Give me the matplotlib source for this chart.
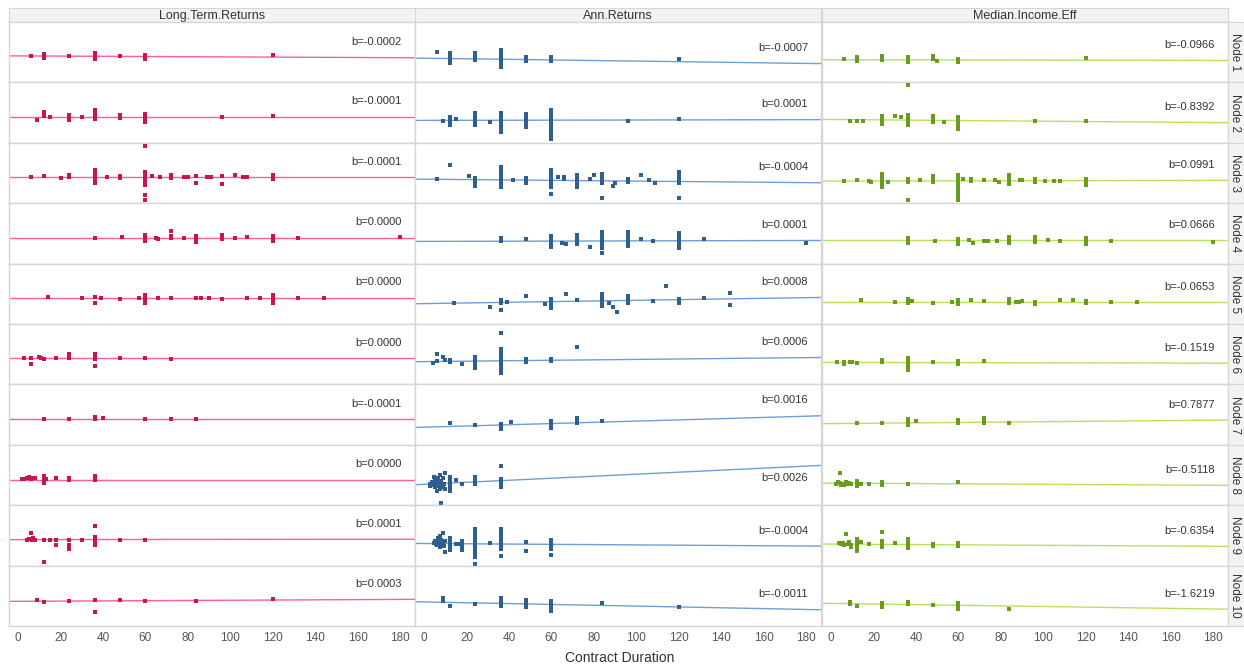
import matplotlib
matplotlib.use("Agg")
import matplotlib.pyplot as plt
import matplotlib.transforms as mtransforms

plt.rcParams['font.family'] = ['Liberation Sans', 'DejaVu Sans']

# facet labels
measures = ['Long.Term.Returns', 'Ann.Returns', 'Median.Income.Eff']
nodes = ['Node %d' % i for i in range(1, 11)]
x_ticks = [0, 20, 40, 60, 80, 100, 120, 140, 160, 180]

# slope labels per node (rows) for each measure
ltr_b = ['-0.0002', '-0.0001', '-0.0001', '0.0000', '0.0000', '0.0000', '-0.0001', '0.0000', '0.0001', '0.0003']
ann_b = ['-0.0007', '0.0001', '-0.0004', '0.0001', '0.0008', '0.0006', '0.0016', '0.0026', '-0.0004', '-0.0011']
mie_b = ['-0.0966', '-0.8392', '0.0991', '0.0666', '-0.0653', '-0.1519', '0.7877', '-0.5118', '-0.6354', '-1.6219']

# fitted trend lines (scaled units per cell)
ltr_icpt = [0.5, 0, 0, 0, 0, 0, -0.5, -0.5, 0, -1.3]
ltr_slope = [-0.01, 0, 0, 0, 0, 0, 0, 0, 0.002, 0.0105]
ann_icpt = [-1.8, -3.6, -2, -3.8, -5.6, -3.2, -8.4, -5.1, -3.9, -1.9]
ann_slope = [-0.029, 0.004, -0.019, 0.005, 0.033, 0.022, 0.061, 0.101, -0.014, -0.042]
mie_icpt = [-3.3, -2.7, -3.9, -2.8, -4.4, -4.0, -4.8, -3.9, -4.5, -3.4]
mie_slope = [-0.004, -0.017, 0.004, 0, 0, -0.004, 0.019, -0.012, -0.012, -0.031]

# (contract duration, scaled value) points per node
ltr_pts = [
    [(6, 0), (12, 2), (12, 0), (12, -2), (24, 0), (36, 3), (36, 1), (36, -1), (36, -3), (48, 0),
     (60, 1), (60, -1), (60, -3), (120, 1)],
    [(9, -3), (12, 5), (12, 1), (15, 0), (24, 2), (24, 0), (24, -3), (30, 0), (36, 7), (36, 4), (36, 2),
     (36, 0), (36, -2), (48, 2), (48, 0), (48, -1), (60, 3), (60, 1), (60, -1), (60, -3), (60, -5),
     (96, 0), (120, 1)],
    [(6, 0), (12, 1), (20, -1), (24, 2), (24, 0), (36, 7), (36, 4), (36, 2), (36, 0), (36, -2), (36, -4),
     (36, -6), (42, 0), (48, 1), (48, -1), (60, 31), (60, 5), (60, 2), (60, 0), (60, -2), (60, -5),
     (60, -8), (60, -18), (60, -23), (63, 1), (67, 0), (72, 2), (72, 0), (72, -1), (78, 0), (80, 0),
     (84, 1), (84, -6), (89, 0), (91, 0), (96, 1), (96, -7), (102, 2), (106, 0), (108, 0), (120, 2),
     (120, 0), (120, -2)],
    [(36, 0), (49, 1), (60, 3), (60, 1), (60, -1), (60, -3), (65, 0), (66, -1), (72, 7), (72, 2), (72, 0),
     (78, 0), (84, 2), (84, 0), (84, -2), (84, -4), (96, 3), (96, 1), (96, -1), (102, 0), (108, 1),
     (120, 2), (120, 0), (120, -3), (132, 0), (180, 1)],
    [(14, 1), (30, 0), (36, 1), (36, -5), (39, 0), (48, -1), (57, 0), (60, 3), (60, 1), (60, -1), (60, -5),
     (66, 0), (72, 0), (84, 0), (86, 0), (90, 0), (96, -1), (108, 0), (114, 0), (120, 3), (120, 1),
     (120, -1), (120, -5), (132, 0), (144, 0)],
    [(3, 0), (6, 0), (6, -6), (10, 1), (11, 0), (12, -1), (18, 0), (24, 4), (24, 2), (24, 0), (36, 4),
     (36, 2), (36, 0), (36, -1), (36, -8), (48, 0), (60, 0), (72, -1)],
    [(12, 0), (24, 0), (36, 2), (36, 0), (40, 1), (60, 0), (72, 0), (84, 0)],
    [(2, 0), (3, 0), (4, 1), (5, 2), (5.5, 1), (6, 0), (7, 1), (8, 1), (12, 3), (12, 1), (12, -1), (12, -4),
     (13, 0), (18, 1), (24, 1), (24, -1), (36, 3), (36, 1), (36, -1)],
    [(4, 0), (5, 1), (6, 7), (6.5, 0), (7, 2), (8, 0), (12, 0), (12, -22), (15, 0), (18, 0), (18, -5),
     (24, 0), (24, -5), (24, -9), (30, 0), (36, 14), (36, 3), (36, 1), (36, -1), (36, -3), (36, -5),
     (48, 0), (60, 0)],
    [(9, -0.4), (12, -1.7), (24, -0.7), (36, 0.3), (36, -11.7), (48, -0.4), (60, -1.4), (84, -1),
     (120, 1.3)],
]

ann_pts = [
    [(6, 4), (12, 3), (12, 1), (12, -1), (12, -3), (12, -5), (12, -7), (24, 3), (24, 1), (24, -2), (24, -4),
     (36, 6), (36, 3), (36, 0), (36, -3), (36, -5), (36, -8), (36, -11), (48, -1), (48, -3), (48, -5),
     (60, -1), (60, -3), (60, -5), (120, -3)],
    [(9, -4), (12, 0), (12, -2), (12, -4), (12, -6), (12, -8), (15, -2), (24, 4), (24, 2), (24, -1), (24, -4),
     (24, -6), (24, -8), (31, -5), (36, 4), (36, 2), (36, 0), (36, -2), (36, -4), (36, -6), (36, -9),
     (36, -11), (36, -13), (36, -15), (48, 3), (48, 1), (48, -2), (48, -4), (48, -6), (48, -8), (48, -10),
     (60, 7), (60, 4), (60, 2), (60, 0), (60, -2), (60, -4), (60, -6), (60, -8), (60, -10), (60, -13),
     (60, -16), (60, -19), (60, -22), (96, -4), (120, -2)],
    [(6, -2), (12, 12), (21, 1), (24, -1), (24, -3), (24, -5), (24, -7), (24, -9), (36, 10), (36, 7), (36, 4),
     (36, 1), (36, -2), (36, -4), (36, -7), (36, -10), (42, -3), (48, -1), (48, -4), (48, -6), (60, 7),
     (60, 4), (60, 1), (60, -2), (60, -5), (60, -8), (60, -10), (60, -17), (63, 0), (66, 0), (66, -2),
     (72, 2), (72, -1), (72, -4), (72, -7), (72, -10), (78, -2), (80, 2), (84, 3), (84, 1), (84, -2),
     (84, -4), (84, -6), (84, -21), (89, -9), (90, -6), (96, -2), (96, -5), (102, 2), (106, -3), (109, -6),
     (120, 5), (120, 2), (120, -1), (120, -4), (120, -6), (120, -21)],
    [(36, 0), (36, -3), (48, -1), (60, 2), (60, -1), (60, -4), (60, -7), (60, -9), (65, -5), (67, -6),
     (72, 3), (72, 0), (72, -3), (72, -6), (78, -9), (84, 6), (84, 3), (84, 0), (84, -3), (84, -6),
     (84, -10), (84, -15), (96, 6), (96, 3), (96, 0), (96, -3), (96, -6), (96, -8), (102, -1), (108, -3),
     (120, 5), (120, 2), (120, -1), (120, -4), (120, -7), (120, -10), (132, -1), (180, -5)],
    [(14, -5), (31, -9), (36, -2), (36, -5), (36, -12), (39, -4), (48, 2), (57, -6), (60, -1), (60, -4),
     (60, -7), (60, -10), (67, 4), (72, -2), (84, 4), (84, 1), (84, -2), (84, -5), (84, -8), (87, -5),
     (89, -9), (91, -14), (96, 2), (96, -1), (96, -5), (108, -3), (114, 12), (120, -1), (120, -3),
     (120, -5), (132, 0), (144, 5), (144, -7)],
    [(4, -5), (6, 4), (6, -3), (9, 1), (10, -2), (12, -2), (12, -4), (18, -6), (24, 1), (24, -2), (24, -5),
     (24, -8), (24, -10), (36, 25), (36, 9), (36, 6), (36, 3), (36, 0), (36, -3), (36, -6), (36, -9),
     (36, -12), (36, -15), (48, -1), (48, -4), (60, -1), (60, -3), (72, 11)],
    [(12, -4), (24, -6), (36, -5), (36, -7), (36, -10), (41, -3), (60, -2), (60, -4), (60, -7), (60, -9),
     (72, 1), (72, -2), (72, -4), (84, -2)],
    [(3, -4.5), (3.5, -3), (4, -6), (4.5, 2), (5, -1), (5, -8), (6, -3.5), (6, -11.5), (6.5, 0.5), (7, -5.5),
     (7.5, 4), (7.5, -9.5), (8, -2), (8, -23.5), (8.5, -6), (9, 1), (9.5, -4.5), (10, 6), (10, -9.5),
     (5.5, -4), (6.5, -7), (7, -2), (8, -8), (9, -6), (4, -3), (3, -7), (6, 1), (7.5, -4),
     (12, 2), (12, -1), (12, -4), (12, -7), (12, -10), (12, -12), (15, -0.5), (18, -4.5), (24, 2),
     (24, -1), (24, -3), (24, -5), (36, 13), (36, 0), (36, -3), (36, -6), (36, -8)],
    [(4.5, -3), (5, -1), (6, -5), (6.5, 1.5), (7, -2.5), (7.5, -7.5), (7.5, 3.5), (8, 0), (8.5, -4),
     (9, 6.5), (9.5, -6), (10, -12.5), (10, -1), (5.5, -4), (8, -6), (9, -2), (12, 2), (12, -1), (12, -4),
     (12, -7), (12, -10), (15, -4), (16, -4), (18, -1), (18, -4), (18, -7), (18, -10), (24, 11), (24, 8),
     (24, 5), (24, 2), (24, -1), (24, -4), (24, -7), (24, -10), (24, -13), (24, -17), (24, -24), (31, -3),
     (36, 11), (36, 8), (36, 5), (36, 2), (36, -1), (36, -4), (36, -6), (36, -9), (36, -16), (48, -2.5),
     (48, -11.5), (60, 0), (60, -3), (60, -6), (60, -9), (60, -15)],
    [(9, 2), (9, -1), (12, -6), (24, -4), (36, 2), (36, -1), (36, -3), (36, -6), (48, 0), (48, -2), (48, -4),
     (48, -7), (60, -1), (60, -4), (60, -6), (60, -9), (60, -11), (84, -3), (120, -7)],
]

mie_pts = [
    [(6, -3), (12, -1), (12, -3), (12, -5), (24, 0), (24, -2), (24, -4), (36, -1), (36, -4), (36, -6),
     (48, 0), (48, -3), (50, -5), (60, -3), (60, -6), (120, -2)],
    [(9, -4), (12, -4), (15, -4), (24, 1), (24, -2), (24, -4), (24, -7), (30, 1), (33, 0), (36, 32), (36, 2),
     (36, -1), (36, -4), (36, -6), (36, -8), (48, 1), (48, -2), (48, -5), (53, -5), (60, 0), (60, -3),
     (60, -6), (60, -9), (60, -12), (96, -4), (120, -4)],
    [(6, -4), (12, -2.5), (18, -4), (19, -5), (24, 3), (24, 0), (24, -3), (24, -6), (24, -10), (27, -5),
     (36, -2), (36, -5), (36, -23), (42, -3), (48, 1), (48, -2), (48, -5), (60, 2), (60, -1), (60, -4),
     (60, -7), (60, -10), (60, -13), (60, -16), (60, -19), (60, -23), (62, -2), (66, -2), (66, -4),
     (72, -3), (77, -3), (79, -5), (84, 2), (84, -1), (84, -4), (84, -7), (89, -3), (90, -2.5), (96, -2),
     (96, -5), (101, -4), (105, -4), (108, -4), (120, -2), (120, -5), (120, -8)],
    [(36, 0), (36, -3), (36, -5), (49, -3.5), (60, -1), (60, -3), (60, -6), (65, -2.5), (67, -5),
     (72, -3.5), (74, -3.5), (78, -3.5), (84, 1), (84, -2), (84, -5), (96, 1), (96, -2), (96, -4),
     (102, -2.5), (108, -3), (120, 0), (120, -3), (120, -6), (132, -3), (180, -4.5)],
    [(14, -2.5), (30, -4.5), (36, -1), (36, -3), (36, -5), (38, -3), (48, -5), (57, -4), (60, -2), (60, -4),
     (60, -6), (66, -2.5), (72, -3), (84, -1), (84, -3), (84, -5), (87, -4.5), (88.5, -4), (90, -3),
     (96, -4), (96, -6), (108, -2.5), (114, -2.5), (120, -3), (120, -5), (132, -4), (144, -4)],
    [(3, -3.5), (6, -4), (6, -6), (9, -3.5), (10, -3.5), (12, -4.5), (24, -2), (24, -4), (36, 0), (36, -3),
     (36, -6), (36, -9), (36, -12), (48, -3.5), (60, -3), (60, -6), (72, -2.5)],
    [(12, -4), (24, -4), (36, 0), (36, -3), (36, -6), (40, -2.5), (60, -1), (60, -4), (72, 1), (72, -2),
     (72, -4), (84, -4)],
    [(2.3, -4.5), (3.1, -3), (4.2, 6), (4.7, -5.5), (5.5, -6), (6.2, -4.5), (7, -3), (7.8, -5), (8.6, -3.5),
     (9.4, -4.5), (4, -4), (6, -6), (8, -5), (12, -2), (12, -4), (12, -7), (14, -4.5), (18, -4.5),
     (24, -3), (24, -6), (36, -4.5), (60, -3)],
    [(3.8, -3.5), (4.7, -4), (5.5, -3), (7, 6), (6.2, -5), (7.8, -4), (8.3, -2.5), (9.4, -5), (9.4, -7.5),
     (12, 1), (12, -2), (12, -5), (12, -7), (12, -11.5), (14, -2.5), (18, -4), (24, 7.5), (24, -1),
     (24, -4), (24, -7), (30, -3), (36, 1), (36, -2), (36, -5), (36, -8), (48, -4), (48, -6), (60, -3),
     (60, -6)],
    [(9, -2), (9, -4), (12, -5.5), (24, -3), (24, -5), (24, -7), (36, -2), (36, -4), (48, -4.5), (60, -3),
     (60, -5), (60, -7), (60, -9), (84, -8.5)],
]

columns = [
    (ltr_pts, ltr_icpt, ltr_slope, ltr_b, '#c8154f', '#ff5e9c'),
    (ann_pts, ann_icpt, ann_slope, ann_b, '#2e5f8d', '#6d9fd6'),
    (mie_pts, mie_icpt, mie_slope, mie_b, '#6b9b1e', '#b9e05d'),
]

W, H = 1244, 668
fig = plt.figure(figsize=(W / 100, H / 100), dpi=100)

GRID = '#d6d6d6'
col_left = [9, 415, 822]
col_w = 406
top0, row_h = 22, 60.4
XLIM = (-4.3, 187)
YLIM = (-26, 34.4)


def fig_rect(x, y, w, h):
    return [x / W, 1 - (y + h) / H, w / W, h / H]


for c, (pts, icpt, slope, blabels, dot_c, line_c) in enumerate(columns):
    # column header
    hax = fig.add_axes(fig_rect(col_left[c], 8, col_w, 14))
    hax.set_facecolor('#f3f3f3')
    hax.set_xticks([])
    hax.set_yticks([])
    for s in hax.spines.values():
        s.set_color(GRID)
    hax.text(0.5, 0.45, measures[c], ha='center', va='center', fontsize=9, color='#333333',
             transform=hax.transAxes)

    for r in range(10):
        ax = fig.add_axes(fig_rect(col_left[c], top0 + r * row_h, col_w, row_h))
        ax.set_xlim(*XLIM)
        ax.set_ylim(*YLIM)
        for s in ax.spines.values():
            s.set_color(GRID)
            s.set_linewidth(1)
        ax.set_yticks([])
        if r == 9:
            ax.set_xticks(x_ticks)
            ax.tick_params(axis='x', length=0, pad=4, labelsize=8.5, labelcolor='#555555')
        else:
            ax.set_xticks([])

        xs = [p[0] for p in pts[r]]
        ys = [p[1] for p in pts[r]]
        fx = list(XLIM)
        fy = [icpt[r] + slope[r] * v for v in fx]
        ax.plot(fx, fy, color=line_c, lw=1.0, zorder=2)
        ax.scatter(xs, ys, s=6.5, marker='s', color=dot_c, linewidths=0, zorder=3)

        # slope label near the right end of the trend line
        ly = fy[1] + 15.5
        if ly > YLIM[1] - 9:
            ly = fy[1] - 13
        tr = mtransforms.blended_transform_factory(ax.transAxes, ax.transData)
        ax.text(0.968, ly, 'b=' + blabels[r], ha='right', va='center', fontsize=8,
                color='#333333', transform=tr)

# node strip on the right
for r in range(10):
    sax = fig.add_axes(fig_rect(1228, top0 + r * row_h, 16, row_h))
    sax.set_facecolor('#f3f3f3')
    sax.set_xticks([])
    sax.set_yticks([])
    for s in sax.spines.values():
        s.set_color(GRID)
    sax.text(0.45, 0.5, nodes[r], rotation=270, ha='center', va='center', fontsize=8.5,
             color='#333333', transform=sax.transAxes)

fig.text(620 / W, 1 - 658 / H, 'Contract Duration', ha='center', va='center', fontsize=10,
         color='#333333')

fig.savefig('out.png', dpi=100)
